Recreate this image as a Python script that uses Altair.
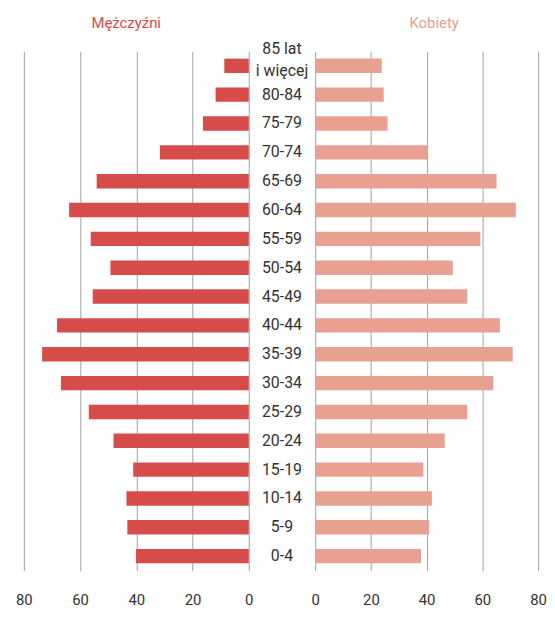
import altair as alt
import pandas as pd

ages = ["85 lat\ni więcej", "80-84", "75-79", "70-74", "65-69", "60-64", "55-59",
        "50-54", "45-49", "40-44", "35-39", "30-34", "25-29", "20-24", "15-19",
        "10-14", "5-9", "0-4"]
men = [8.7, 11.8, 16.3, 31.6, 54.1, 63.9, 56.2, 49.2, 55.5, 68.2, 73.5, 66.8,
       56.9, 48.1, 41.1, 43.5, 43.2, 40.1]
women = [23.9, 24.6, 26.0, 40.4, 65.1, 72.0, 59.3, 49.4, 54.6, 66.3, 70.9, 63.9,
         54.6, 46.5, 38.8, 41.9, 40.9, 38.0]
ticks = [0, 20, 40, 60, 80]
titles = ["Mężczyźni", "Kobiety"]

df = pd.DataFrame({"age": ages, "men": men, "women": women})
top_label = ages[0].split("\n")

FONT = "Roboto, sans-serif"
RED = "#d64c4a"
SALMON = "#e8a091"
TXT = "#333333"
H = 524
FS = 16


def yenc():
    return alt.Y("age:N", sort=ages, axis=None,
                 scale=alt.Scale(paddingInner=0.5, paddingOuter=0.25))


def xaxis():
    return alt.Axis(values=ticks, grid=True, ticks=False, domain=False,
                    labelPadding=22, title=None, labelFontSize=15,
                    labelColor=TXT, labelFont=FONT, gridColor="#a0a0a0",
                    gridWidth=1, labelFlush=False)


def title_layer(text, color, xpos):
    return alt.Chart(pd.DataFrame({"t": [text]})).mark_text(
        font=FONT, fontSize=15, color=color, baseline="middle", align="center"
    ).encode(x=alt.value(xpos), y=alt.value(-29), text="t:N")


left_bars = alt.Chart(df).mark_bar(color=RED).encode(
    x=alt.X("men:Q", scale=alt.Scale(domain=[0, 80], reverse=True), axis=xaxis()),
    y=yenc(),
)
left = alt.layer(left_bars, title_layer(titles[0], RED, 103.3)).properties(
    width=227, height=H)

right_bars = alt.Chart(df).mark_bar(color=SALMON).encode(
    x=alt.X("women:Q", scale=alt.Scale(domain=[0, 80]), axis=xaxis()),
    y=yenc(),
)
right = alt.layer(right_bars, title_layer(titles[1], SALMON, 120.1)).properties(
    width=225, height=H)

mid_single = alt.Chart(df).transform_filter(alt.datum.age != ages[0]).mark_text(
    font=FONT, fontSize=FS, color=TXT, baseline="middle", align="center"
).encode(x=alt.value(33.5), y=yenc(), text="age:N")

top_df = pd.DataFrame({"age": [ages[0]], "line1": [top_label[0]],
                       "line2": [top_label[1]]})
mid_top1 = alt.Chart(top_df).mark_text(
    font=FONT, fontSize=FS, color=TXT, baseline="middle", align="center", dy=-16.5
).encode(x=alt.value(33.5), y=yenc(), text="line1:N")
mid_top2 = alt.Chart(top_df).mark_text(
    font=FONT, fontSize=FS, color=TXT, baseline="middle", align="center", dy=5.5
).encode(x=alt.value(33.5), y=yenc(), text="line2:N")

mid = alt.layer(mid_single, mid_top1, mid_top2).properties(width=67, height=H)

chart = alt.hconcat(left, mid, right, spacing=0, bounds="flush").configure_view(
    stroke=None).properties(padding={"left": 7, "top": 5, "right": 0, "bottom": 0})

chart.save("out.html", embed_options={"renderer": "svg", "actions": False})
